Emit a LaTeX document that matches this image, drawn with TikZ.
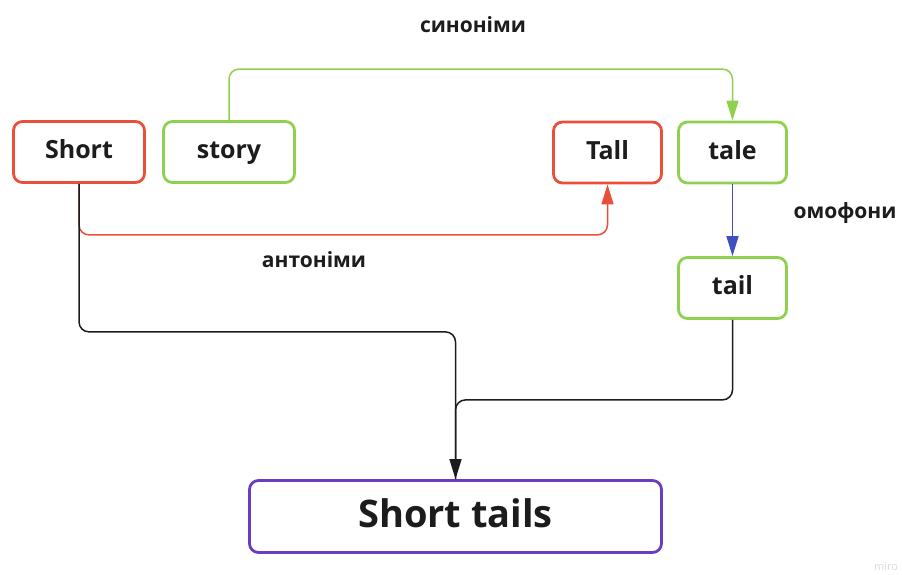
\documentclass[tikz,border=0pt]{standalone}
\usepackage{fontspec}
\setmainfont{Open Sans}
\usetikzlibrary{arrows.meta}
\definecolor{mred}{HTML}{E8503A}
\definecolor{mgreen}{HTML}{8FD14F}
\definecolor{mblue}{HTML}{3F4FC0}
\definecolor{mpurple}{HTML}{6A3DBE}
\definecolor{mtext}{HTML}{1C1C1C}

\begin{document}
\begin{tikzpicture}[x=1pt,y=-1pt,
    word/.style={draw,rounded corners=9pt,line width=2.8pt,fill=white,text=mtext,
        font=\fontsize{25}{30}\selectfont\bfseries,minimum width=131pt,minimum height=61pt,
        inner sep=0pt,text height=18pt,text depth=5pt},
    link/.style={line width=1.5pt,rounded corners=10pt},
    tip/.style={-{Triangle[length=20pt,width=12pt]}},
    lbl/.style={text=mtext,font=\fontsize{21}{25}\selectfont\bfseries}]
    \useasboundingbox (0,0) rectangle (902,574);
    % words
    \node[word,draw=mred] (short) at (79,152) {Short};
    \node[word,draw=mgreen] (story) at (229,152) {story};
    \node[word,draw=mred,minimum width=108pt] (tall) at (607.5,152.5) {Tall};
    \node[word,draw=mgreen,minimum width=108pt] (tale) at (732.5,152.5) {tale};
    \node[word,draw=mgreen,minimum width=108pt] (tail) at (732.5,288) {tail};
    \node[word,draw=mpurple,minimum width=412pt,minimum height=72pt,text height=27pt,text depth=6pt,
        font=\fontsize{38}{44}\selectfont\bfseries] (result) at (455.5,516.5) {Short tails};
    % links
    \draw[link,tip,mgreen] (story.north) -- ++(0,-51) -| (tale.north);
    \draw[link,tip,mred] (short.south) -- ++(0,51) -| (tall.south);
    \draw[link,tip,mblue] (tale.south) -- (tail.north);
    \draw[link,mtext] (tail.south) -- ++(0,80) -| (result.north);
    \draw[link,tip,mtext] (short.south) -- ++(0,148) -| (result.north);
    % labels
    \node[lbl] (syn) at (473,25) {синоніми};
    \node[lbl] (ant) at (314,260) {антоніми};
    \node[lbl] (hom) at (845,213) {омофони};
    \node[text=black!15,font=\fontsize{11}{13}\selectfont] (miro) at (886,567) {miro};
\end{tikzpicture}
\end{document}
